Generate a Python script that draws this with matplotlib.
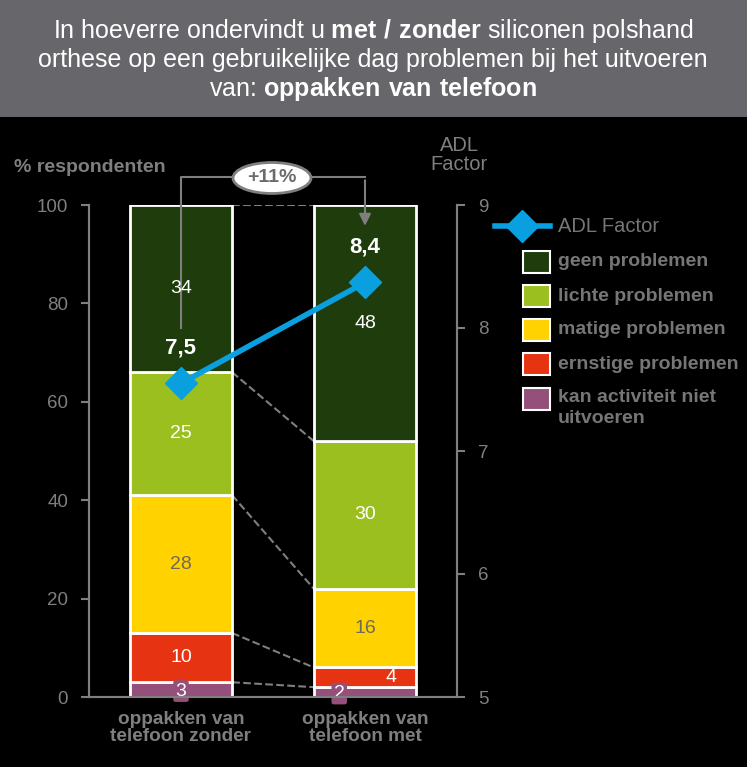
import matplotlib.pyplot as plt
from matplotlib.patches import Rectangle, Ellipse
from matplotlib.lines import Line2D

plt.rcParams['font.family'] = ['Liberation Sans', 'DejaVu Sans']
plt.rcParams['mathtext.fontset'] = 'custom'
plt.rcParams['mathtext.rm'] = 'Liberation Sans'
plt.rcParams['mathtext.bf'] = 'Liberation Sans:bold'

# data
groups = ['oppakken van\ntelefoon zonder', 'oppakken van\ntelefoon met']
categories = ['kan activiteit niet\nuitvoeren', 'ernstige problemen', 'matige problemen',
              'lichte problemen', 'geen problemen']
values = {
    'kan activiteit niet\nuitvoeren': [3, 2],
    'ernstige problemen': [10, 4],
    'matige problemen': [28, 16],
    'lichte problemen': [25, 30],
    'geen problemen': [34, 48],
}
colors = ['#94507a', '#e63312', '#ffd200', '#9bbf1f', '#1f3d0c']
adl = [7.55, 8.37]
adl_labels = ['7,5', '8,4']
change_label = '+11%'

GRAY = '#7f7f7f'
LEGGRAY = '#767676'
BLUE = '#0aa0e0'
W, H = 747, 767


def px(x, y):
    return x / W, 1 - y / H


fig = plt.figure(figsize=(W / 100, H / 100), dpi=100, facecolor='black')

# title banner
fig.patches.append(Rectangle(px(0, 117), 1, 117 / H, transform=fig.transFigure,
                             facecolor='#67676b', edgecolor='none', zorder=0))
title_lines = ['In hoeverre ondervindt u $\\bf{met\\ /\\ zonder}$ siliconen polshand',
               'orthese op een gebruikelijke dag problemen bij het uitvoeren',
               'van: $\\bf{oppakken\\ van\\ telefoon}$']
for line, yy in zip(title_lines, [31, 60, 89]):
    fig.text(*px(373, yy), line, ha='center', va='center', color='white', fontsize=18)

ax = fig.add_axes([89 / W, 1 - 697 / H, (457 - 89) / W, (697 - 205) / H])
ax.set_facecolor('black')
x = [0, 1]
w = 0.556
bottoms = [0, 0]
tops = []
for cat, col in zip(categories, colors):
    vals = values[cat]
    ax.bar(x, vals, w, bottom=bottoms, color=col, edgecolor='white', linewidth=2, zorder=2)
    for i in range(2):
        v = vals[i]
        cy = bottoms[i] + v / 2
        txtcol = '#6f6a5a' if col == '#ffd200' else 'white'
        if v <= 3:
            ax.text(x[i] - (0.14 if i == 1 else 0), bottoms[i] + v / 2 - 0.3, str(v), ha='center',
                    va='center', color='white', fontsize=14, zorder=5,
                    bbox=dict(boxstyle='round,pad=0.12', fc=col, ec='none'))
        elif v <= 5:
            ax.text(x[i] + 0.14, cy, str(v), ha='center', va='center', color=txtcol,
                    fontsize=14, zorder=5)
        else:
            ax.text(x[i], cy, str(v), ha='center', va='center', color=txtcol,
                    fontsize=14, zorder=5)
    bottoms = [bottoms[i] + vals[i] for i in range(2)]
    tops.append(list(bottoms))

# dashed connectors between segment tops
for t in tops:
    ax.plot([w / 2, 1 - w / 2], t, color=GRAY, ls='--', lw=1.5, zorder=1)

ax.set_xlim(-0.5, 1.5)
ax.set_ylim(0, 100)
ax.set_yticks([0, 20, 40, 60, 80, 100])
ax.set_xticks(x)
ax.set_xticklabels(groups, color=GRAY, fontsize=13.7, fontweight='bold', linespacing=1.0)
ax.tick_params(axis='x', length=0, pad=10)
ax.tick_params(axis='y', colors=GRAY, labelsize=13.5, length=6, width=1.5, pad=9)
for s in ['left', 'right', 'bottom']:
    ax.spines[s].set_color(GRAY)
    ax.spines[s].set_linewidth(1.5)
ax.spines['top'].set_visible(False)

# bracket with change label
ax.plot([0, 0, 1], [75, 105.6, 105.6], color=GRAY, lw=1.5, clip_on=False, zorder=3)
ax.annotate('', xy=(1, 95.2), xytext=(1, 105.6), annotation_clip=False,
            arrowprops=dict(arrowstyle='-|>,head_width=0.35,head_length=0.7', color=GRAY, lw=1.5))
fig.patches.append(Ellipse(px(272, 178), 78 / W, 31 / H, transform=fig.transFigure,
                           facecolor='white', edgecolor=GRAY, lw=2, zorder=5))
fig.text(*px(272, 178), change_label, ha='center', va='center', color='#6b6b6b',
         fontsize=14, fontweight='bold', zorder=6)

# ADL factor line
ax2 = ax.twinx()
ax2.set_ylim(5, 9)
ax2.set_yticks([5, 6, 7, 8, 9])
ax2.plot(x, adl, color=BLUE, lw=4, marker='D', ms=16, zorder=6)
for i in range(2):
    ax2.annotate(adl_labels[i], (x[i], adl[i]), xytext=(0, 35), textcoords='offset pixels',
                 ha='center', va='center', color='white', fontsize=16, fontweight='bold')
ax2.tick_params(axis='y', colors=GRAY, labelsize=13.5, length=6, width=1.5, pad=9)
for s in ['left', 'right', 'bottom']:
    ax2.spines[s].set_color(GRAY)
    ax2.spines[s].set_linewidth(1.5)
ax2.spines['top'].set_visible(False)

# axis titles
fig.text(*px(14, 167), '% respondenten', ha='left', va='center', color=GRAY,
         fontsize=14, fontweight='bold')
fig.text(*px(459, 155), 'ADL\nFactor', ha='center', va='center', color=GRAY,
         fontsize=14.5, linespacing=1.05)

# legend
ly = px(0, 226)[1]
fig.lines.append(Line2D([495 / W, 550 / W], [ly, ly], transform=fig.transFigure,
                        color=BLUE, lw=4))
fig.lines.append(Line2D([522 / W], [ly], transform=fig.transFigure,
                        color=BLUE, marker='D', ms=16, ls='none'))
fig.text(*px(558, 226), 'ADL Factor', ha='left', va='center', color=LEGGRAY, fontsize=14.5)
leg_y = [262, 296, 330, 364, 399]
for cat, col, yy in zip(categories[::-1], colors[::-1], leg_y):
    fig.patches.append(Rectangle(px(523, yy + 11), 27 / W, 22 / H, transform=fig.transFigure,
                                 facecolor=col, edgecolor='white', lw=1.5))
    if '\n' in cat:
        fig.text(*px(558, yy - 10), cat, ha='left', va='top', color=LEGGRAY,
                 fontsize=14, fontweight='bold', linespacing=1.3)
    else:
        fig.text(*px(558, yy), cat, ha='left', va='center', color=LEGGRAY,
                 fontsize=14, fontweight='bold')

fig.savefig('out.png', dpi=100, facecolor='black')
